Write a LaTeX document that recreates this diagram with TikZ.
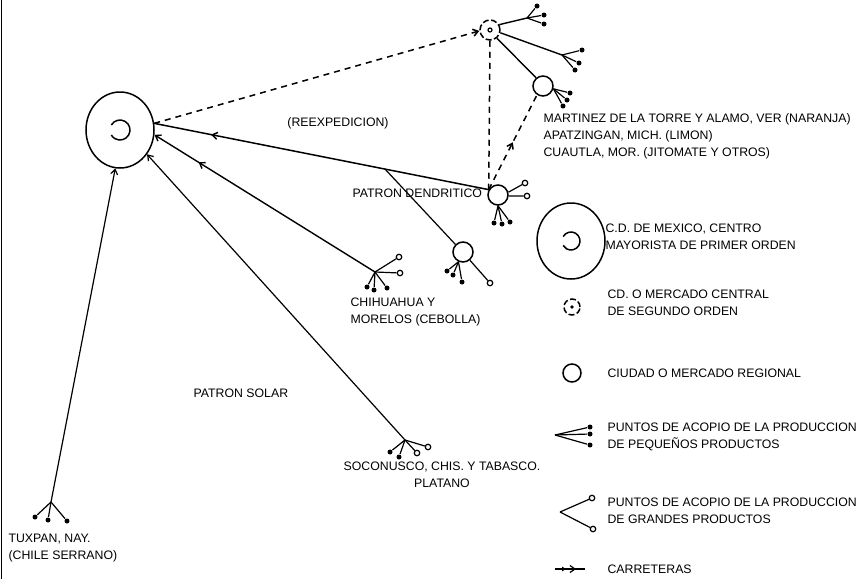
\documentclass[tikz,border=0pt]{standalone}
\usepackage{fontspec}
\setmainfont{Liberation Sans}
\usetikzlibrary{
  arrows.meta,
  positioning,
  shapes.geometric,
  decorations.markings,
  calc
}

\tikzset{
  mainc/.style={draw, ellipse, line width=1.5pt, minimum width=68pt, minimum height=76pt, inner sep=0pt},
  secc/.style={draw, circle, dash pattern=on 6pt off 2.5pt, line width=1.5pt, minimum size=20pt, inner sep=0pt},
  regc/.style={draw, circle, line width=1.5pt, minimum size=20pt, inner sep=0pt},
  smallp/.style={circle, fill, minimum size=5pt, inner sep=0pt},
  bigp/.style={circle, draw, line width=1.2pt, minimum size=5.5pt, inner sep=0pt},
  lbl/.style={font=\fontsize{12.3}{17}\selectfont, align=left, inner sep=0pt},
  dashroad/.style={dash pattern=on 6pt off 5pt, line width=1.5pt},
  road/.style={line width=1.2pt},
  barb/.style={-{Straight Barb[length=5pt,width=7pt]}},
  midarrow/.style={postaction={decorate}, decoration={markings,
    mark=at position #1 with {\arrow{Straight Barb[length=5pt,width=7pt]}}}},
  roadkey/.style={postaction={decorate}, decoration={markings,
    mark=at position 0.4 with {\arrow{Latex[length=5pt,width=5pt]}},
    mark=at position 0.7 with {\arrow{Straight Barb[length=5pt,width=7pt]}}}}
}

\begin{document}
\begin{tikzpicture}[x=1pt, y=-1pt, line width=1.2pt]
  \useasboundingbox (0,0) rectangle (863,579);
  \draw[line width=1pt] (1.5,0) -- (1.5,579);

  % centros
  \node[mainc] (mex) at (120,130) {};
  \draw[line width=1.5pt] ([shift={(-150:10)}]mex.center) arc[start angle=-150, end angle=150, radius=10];
  \node[secc] (sec) at (490,30) {};
  \draw (sec.center) circle[radius=2];
  \node[regc] (regA) at (543,86) {};
  \node[regc] (dend) at (498,195) {};
  \node[regc] (regB) at (463,252) {};

  % puntos de acopio
  \coordinate (hubT) at (51,502);
  \coordinate (hubC) at (375,272);
  \coordinate (hubS) at (405,440);
  \coordinate (hubA) at (527,18);
  \coordinate (hubB) at (562,55);

  % carreteras
  \draw[dashroad, barb] (mex.11) -- (sec.185);
  \draw[dashroad] (sec.south) -- (dend.150);
  \draw[dashroad, midarrow=0.5] (dend.150) -- (regA.236);
  \draw[line width=1.5pt, midarrow=0.83] (dend.150) -- (mex.11);
  \coordinate (jn) at ($(dend.150)!0.31!(mex.11)$);
  \draw (regB.135) -- (jn);
  \draw[line width=1.4pt, midarrow=0.8, barb] (hubC) -- (mex.-8);
  \draw[barb] (hubS) -- (mex.-42);
  \draw[barb] (hubT) -- (mex.-97);
  \draw[line width=1.4pt] (sec.-50) -- (regA.130);
  \draw[line width=1.4pt] (sec.30) -- (hubA);
  \draw[line width=1.4pt] (sec.-15) -- (hubB);

  % ramas
  \foreach \n/\x/\y in {t1/35/517, t2/48/520, t3/67/521} {
    \node[smallp] (\n) at (\x,\y) {};
    \draw (hubT) -- (\n);
  }
  \foreach \n/\x/\y in {c1/367/287, c2/374/290, c3/387/288} {
    \node[smallp] (\n) at (\x,\y) {};
    \draw (hubC) -- (\n);
  }
  \foreach \n/\x/\y in {c4/399/257, c5/400/273} {
    \node[bigp] (\n) at (\x,\y) {};
    \draw (hubC) -- (\n);
  }
  \foreach \n/\x/\y in {s1/390/452, s2/399/457} {
    \node[smallp] (\n) at (\x,\y) {};
    \draw (hubS) -- (\n);
  }
  \foreach \n/\x/\y in {s3/417/453, s4/428/447} {
    \node[bigp] (\n) at (\x,\y) {};
    \draw (hubS) -- (\n);
  }
  \foreach \n/\x/\y in {b1/447/271, b2/453/275, b3/462/282} {
    \node[smallp] (\n) at (\x,\y) {};
    \draw (regB.-115) -- (\n);
  }
  \node[bigp] (b4) at (490,283) {};
  \draw (regB.-50) -- (b4);
  \node[bigp] (d1) at (525,183) {};
  \node[bigp] (d2) at (527,196) {};
  \draw (dend.15) -- (d1);
  \draw (dend.-5) -- (d2);
  \foreach \n/\x/\y in {d3/494/223, d4/502/224, d5/510/222} {
    \node[smallp] (\n) at (\x,\y) {};
    \draw (dend.south) -- (\n);
  }
  \foreach \n/\x/\y in {a1/570/93, a2/567/100, a3/563/106} {
    \node[smallp] (\n) at (\x,\y) {};
    \draw (regA.-15) -- (\n);
  }
  \foreach \n/\x/\y in {e1/537/6, e2/544/15, e3/544/24} {
    \node[smallp] (\n) at (\x,\y) {};
    \draw (hubA) -- (\n);
  }
  \foreach \n/\x/\y in {f1/582/50, f2/579/63, f3/575/70} {
    \node[smallp] (\n) at (\x,\y) {};
    \draw (hubB) -- (\n);
  }

  % textos
  \node[lbl] (reex) at (338,123) {(REEXPEDICION)};
  \node[lbl, anchor=west] (dendl) at (352,193) {PATRON DENDRITICO};
  \node[lbl, anchor=west] (mart) at (543,136) {MARTINEZ DE LA TORRE Y ALAMO, VER (NARANJA)\\APATZINGAN, MICH. (LIMON)\\CUAUTLA, MOR. (JITOMATE Y OTROS)};
  \node[lbl, anchor=west] (solar) at (193,393) {PATRON SOLAR};
  \node[lbl, anchor=west] (chih) at (350,312) {CHIHUAHUA Y\\MORELOS (CEBOLLA)};
  \node[lbl, align=center] (soco) at (442,475) {SOCONUSCO, CHIS. Y TABASCO.\\PLATANO};
  \node[lbl, anchor=west] (tuxp) at (8,548) {TUXPAN, NAY.\\(CHILE SERRANO)};

  % leyenda
  \node[mainc] (lgMex) at (571,241) {};
  \draw[line width=1.5pt] ([shift={(-150:9)}]lgMex.center) arc[start angle=-150, end angle=150, radius=9];
  \node[lbl, anchor=west] (lgMexl) at (605,237) {C.D. DE MEXICO, CENTRO\\MAYORISTA DE PRIMER ORDEN};
  \node[secc, minimum size=16pt] (lgSec) at (572,307) {};
  \fill (lgSec.center) circle[radius=1.8];
  \node[lbl, anchor=west] (lgSecl) at (607,303) {CD. O MERCADO CENTRAL\\DE SEGUNDO ORDEN};
  \node[regc, minimum size=18pt] (lgReg) at (572,373) {};
  \node[lbl, anchor=west] (lgRegl) at (607,373) {CIUDAD O MERCADO REGIONAL};
  \coordinate (lgHubP) at (555,435);
  \foreach \n/\y in {lp1/427, lp2/434, lp3/445} {
    \node[smallp] (\n) at (590,\y) {};
    \draw (lgHubP) -- (\n);
  }
  \node[lbl, anchor=west] (lgPl) at (607,437) {PUNTOS DE ACOPIO DE LA PRODUCCION\\DE PEQUEÑOS PRODUCTOS};
  \coordinate (lgHubG) at (560,512);
  \node[bigp] (lg1) at (592,498) {};
  \node[bigp] (lg2) at (593,529) {};
  \draw (lgHubG) -- (lg1);
  \draw (lgHubG) -- (lg2);
  \node[lbl, anchor=west] (lgGl) at (607,511) {PUNTOS DE ACOPIO DE LA PRODUCCION\\DE GRANDES PRODUCTOS};
  \coordinate (rdA) at (555,569);
  \coordinate (rdB) at (585,569);
  \draw[road, roadkey] (rdA) -- (rdB);
  \node[lbl, anchor=west] (lgRdl) at (607,569) {CARRETERAS};
\end{tikzpicture}
\end{document}
